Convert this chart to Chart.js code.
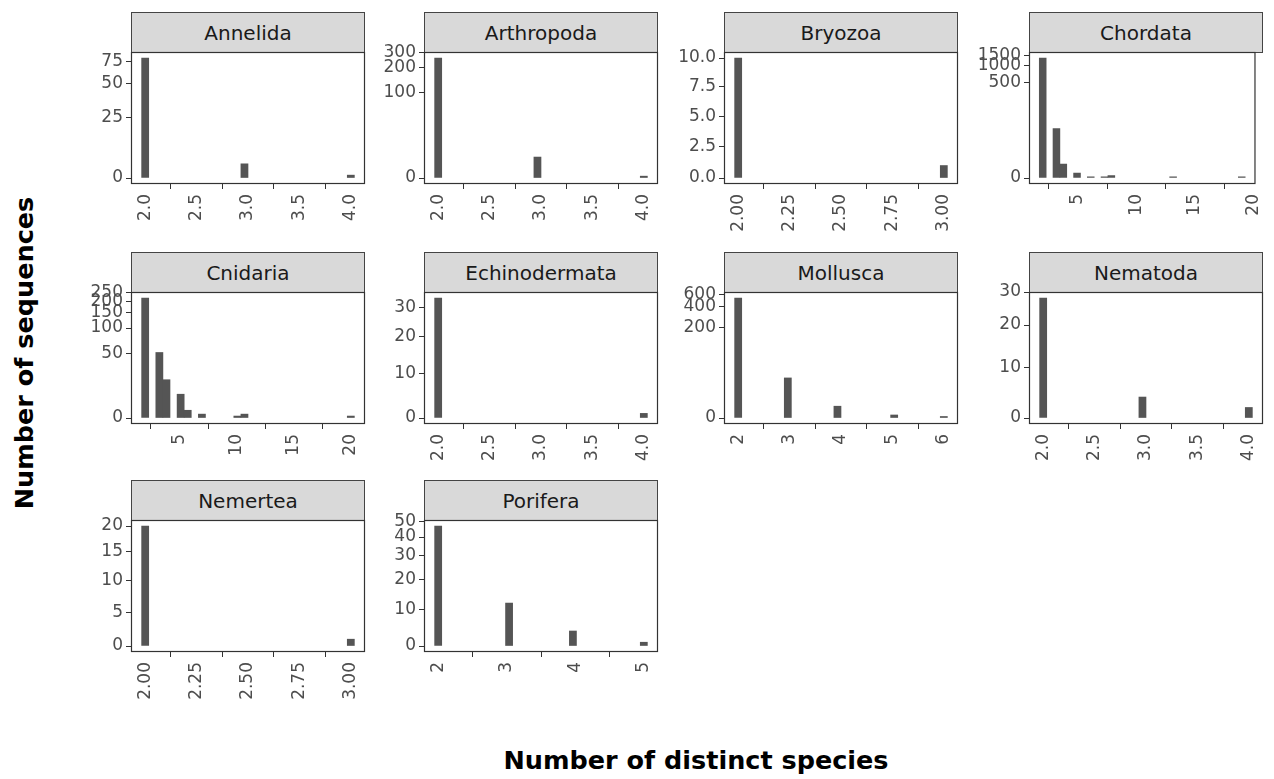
<!DOCTYPE html>
<html>
<head>
<meta charset="utf-8">
<script src="https://cdn.jsdelivr.net/npm/chart.js@4.4.1/dist/chart.umd.min.js"></script>
<style>
  html, body { margin: 0; padding: 0; background: #fff; }
  body { width: 1274px; height: 779px; overflow: hidden; position: relative; font-family: 'DejaVu Sans', sans-serif; }
  .strip { position: absolute; box-sizing: border-box; background: #d9d9d9; border: 1px solid #444; display: flex; align-items: center; justify-content: center; font-size: 20px; color: #1a1a1a; }
  .cw { position: absolute; }
  .title { position: absolute; font-weight: bold; font-size: 25.5px; color: #000; white-space: nowrap; font-family: 'DejaVu Sans', sans-serif; }
</style>
</head>
<body>
<div class="title" id="xtitle">Number of distinct species</div>
<div class="title" id="ytitle">Number of sequences</div>
<script>
// ---------------- data ----------------
const phyla = ['Annelida', 'Arthropoda', 'Bryozoa', 'Chordata', 'Cnidaria',
               'Echinodermata', 'Mollusca', 'Nematoda', 'Nemertea', 'Porifera'];

// number of distinct species (x) and number of sequences with that value (count)
const annelidaSpecies      = [2, 3, 4];
const annelidaCounts       = [80, 5, 1];
const arthropodaSpecies    = [2, 3, 4];
const arthropodaCounts     = [260, 12, 1];
const bryozoaSpecies       = [2, 3];
const bryozoaCounts        = [10, 1];
const chordataSpecies      = [2, 3, 4, 5, 6, 7, 8, 13, 19];
const chordataCounts       = [1350, 74, 12, 4, 1, 1, 2, 1, 1];
const cnidariaSpecies      = [2, 3, 4, 5, 6, 7, 10, 11, 20];
const cnidariaCounts       = [218, 52, 23, 13, 4, 2, 1, 2, 1];
const echinodermataSpecies = [2, 4];
const echinodermataCounts  = [34, 1];
const molluscaSpecies      = [2, 3, 4, 5, 6];
const molluscaCounts       = [530, 35, 8, 2, 1];
const nematodaSpecies      = [2, 3, 4];
const nematodaCounts       = [28, 4, 2];
const nemerteaSpecies      = [2, 3];
const nemerteaCounts       = [20, 1];
const poriferaSpecies      = [2, 3, 4, 5];
const poriferaCounts       = [47, 12, 4, 1];

// tick values and labels
const yTicksAnnelida = [0, 25, 50, 75];
const yTicksArthropoda = [0, 100, 200, 300];
const yTicksBryozoa = [0, 2.5, 5, 7.5, 10];
const yLabelsBryozoa = ['0.0', '2.5', '5.0', '7.5', '10.0'];
const yTicksChordata = [0, 500, 1000, 1500];
const yTicksCnidaria = [0, 50, 100, 150, 200, 250];
const yTicksEchinodermata = [0, 10, 20, 30];
const yTicksMollusca = [0, 200, 400, 600];
const yTicksNematoda = [0, 10, 20, 30];
const yTicksNemertea = [0, 5, 10, 15, 20];
const yTicksPorifera = [0, 10, 20, 30, 40, 50];

const xTicksHalf = [2, 2.5, 3, 3.5, 4];
const xLabelsHalf = ['2.0', '2.5', '3.0', '3.5', '4.0'];
const xTicksQuarter = [2, 2.25, 2.5, 2.75, 3];
const xLabelsQuarter = ['2.00', '2.25', '2.50', '2.75', '3.00'];
const xTicksFives = [5, 10, 15, 20];
const xTicksMollusca = [2, 3, 4, 5, 6];
const xTicksPorifera = [2, 3, 4, 5];

const NBINS = 30;

// ---------------- pseudo-log (asinh) y scale ----------------
const SIGMA2 = 20;
const tf = v => Math.asinh(v / SIGMA2);
const tinv = t => SIGMA2 * Math.sinh(t);

class PseudoLogScale extends Chart.Scale {
  static id = 'pseudolog';
  static defaults = {};
  determineDataLimits() {
    this.min = this.options.min;
    this.max = this.options.max;
  }
  buildTicks() {
    const vals = this.options.tickValues || [];
    return vals.filter(v => v >= this.min && v <= this.max).map(v => ({ value: v }));
  }
  getLabelForValue(v) { return String(v); }
  configure() {
    super.configure();
    this._t0 = tf(this.min);
    this._t1 = tf(this.max);
  }
  getPixelForValue(v) {
    if (v === null || v === undefined || isNaN(v)) return NaN;
    return this.getPixelForDecimal((tf(v) - this._t0) / (this._t1 - this._t0));
  }
  getValueForPixel(p) {
    return tinv(this._t0 + this.getDecimalForPixel(p) * (this._t1 - this._t0));
  }
}
Chart.register(PseudoLogScale);

// ---------------- histogram binning (30 bins, as ggplot) ----------------
function binData(species, counts) {
  const lo = Math.min(...species), hi = Math.max(...species);
  const w = (hi - lo) / (NBINS - 1);
  const bins = [];
  for (let k = 0; k < NBINS; k++) bins.push({ x: lo + k * w, y: 0 });
  species.forEach((s, i) => {
    let k = Math.ceil((s - lo) / w - 0.5 - 1e-7);
    k = Math.max(0, Math.min(NBINS - 1, k));
    bins[k].y += counts[i];
  });
  const span = hi - lo + w;
  return { bins, xmin: lo - w / 2 - 0.05 * span, xmax: hi + w / 2 + 0.05 * span };
}

// ---------------- panels ----------------
const panels = [
  { name: phyla[0], sp: annelidaSpecies, ct: annelidaCounts, yt: yTicksAnnelida, xt: xTicksHalf, xl: xLabelsHalf },
  { name: phyla[1], sp: arthropodaSpecies, ct: arthropodaCounts, yt: yTicksArthropoda, xt: xTicksHalf, xl: xLabelsHalf },
  { name: phyla[2], sp: bryozoaSpecies, ct: bryozoaCounts, yt: yTicksBryozoa, yl: yLabelsBryozoa, xt: xTicksQuarter, xl: xLabelsQuarter },
  { name: phyla[3], sp: chordataSpecies, ct: chordataCounts, yt: yTicksChordata, xt: xTicksFives },
  { name: phyla[4], sp: cnidariaSpecies, ct: cnidariaCounts, yt: yTicksCnidaria, xt: xTicksFives },
  { name: phyla[5], sp: echinodermataSpecies, ct: echinodermataCounts, yt: yTicksEchinodermata, xt: xTicksHalf, xl: xLabelsHalf },
  { name: phyla[6], sp: molluscaSpecies, ct: molluscaCounts, yt: yTicksMollusca, xt: xTicksMollusca },
  { name: phyla[7], sp: nematodaSpecies, ct: nematodaCounts, yt: yTicksNematoda, xt: xTicksHalf, xl: xLabelsHalf },
  { name: phyla[8], sp: nemerteaSpecies, ct: nemerteaCounts, yt: yTicksNemertea, xt: xTicksQuarter, xl: xLabelsQuarter },
  { name: phyla[9], sp: poriferaSpecies, ct: poriferaCounts, yt: yTicksPorifera, xt: xTicksPorifera }
];

// layout
const colLeft = [131, 424, 724, 1029];
const rowTop = [52, 292, 520];
const stripTop = [12, 252, 480];
const PW = 234, PH = 132;
const YW = 80, XH = 70, PT = 14, PR = 16;

const borderPlugin = {
  id: 'panelBorder',
  afterDraw(chart) {
    const { ctx, chartArea: a } = chart;
    ctx.save();
    ctx.strokeStyle = '#333333';
    ctx.lineWidth = 1.2;
    ctx.strokeRect(a.left + 0.5, a.top + 0.5, a.right - a.left - 1, a.bottom - a.top - 1);
    ctx.restore();
  }
};

const tickFont = { family: 'DejaVu Sans', size: 17 };

panels.forEach((p, i) => {
  const col = i % 4, row = Math.floor(i / 4);
  const left = colLeft[col], top = rowTop[row];

  // strip
  const strip = document.createElement('div');
  strip.className = 'strip';
  strip.style.left = left + 'px';
  strip.style.top = stripTop[row] + 'px';
  strip.style.width = PW + 'px';
  strip.style.height = (top - stripTop[row] + 1) + 'px';
  strip.textContent = p.name;
  document.body.appendChild(strip);

  // canvas
  const wrap = document.createElement('div');
  wrap.className = 'cw';
  wrap.style.left = (left - YW) + 'px';
  wrap.style.top = (top - PT) + 'px';
  const cv = document.createElement('canvas');
  const W = YW + PW + PR, H = PT + PH + XH;
  cv.width = W; cv.height = H;
  cv.style.width = W + 'px'; cv.style.height = H + 'px';
  wrap.appendChild(cv);
  document.body.appendChild(wrap);

  const hb = binData(p.sp, p.ct);
  const R = tf(Math.max(...hb.bins.map(b => b.y)));
  // empty bins are kept (they fix the bin width) but not drawn
  const drawn = hb.bins.map(b => ({ x: b.x, y: b.y > 0 ? b.y : null }));

  new Chart(cv, {
    type: 'bar',
    data: {
      datasets: [{
        data: drawn,
        backgroundColor: '#555555',
        borderWidth: 0,
        barPercentage: 1,
        categoryPercentage: 1
      }]
    },
    options: {
      responsive: false,
      animation: false,
      devicePixelRatio: 1,
      events: [],
      layout: { padding: { left: 0, top: PT, right: PR, bottom: 0 } },
      plugins: { legend: { display: false }, tooltip: { enabled: false } },
      scales: {
        x: {
          type: 'linear',
          min: hb.xmin,
          max: hb.xmax,
          offset: false,
          afterBuildTicks: s => { s.ticks = p.xt.map(v => ({ value: v })); },
          afterFit: s => { s.height = XH; },
          grid: { display: true, drawOnChartArea: false, drawTicks: true, tickLength: 5, color: '#333333', lineWidth: 1 },
          border: { display: false },
          ticks: {
            autoSkip: false, minRotation: 90, maxRotation: 90, padding: 5,
            font: tickFont, color: '#4d4d4d',
            callback: (v, idx) => p.xl ? p.xl[idx] : String(p.xt[idx])
          }
        },
        y: {
          type: 'pseudolog',
          min: tinv(-0.05 * R),
          max: tinv(1.05 * R),
          tickValues: p.yt,
          afterFit: s => { s.width = YW; },
          grid: { display: true, drawOnChartArea: false, drawTicks: true, tickLength: 5, color: '#333333', lineWidth: 1 },
          border: { display: false },
          ticks: {
            autoSkip: false, padding: 3,
            font: tickFont, color: '#4d4d4d',
            callback: function (v, idx) {
              const t = this.ticks[idx].value;
              const j = p.yt.indexOf(t);
              return p.yl ? p.yl[j] : String(t);
            }
          }
        }
      }
    },
    plugins: [borderPlugin]
  });
});

// axis titles
const xt = document.getElementById('xtitle');
xt.style.left = '696px'; xt.style.top = '760px';
xt.style.transform = 'translate(-50%, -50%)';
const yt = document.getElementById('ytitle');
yt.style.left = '24px'; yt.style.top = '353px';
yt.style.transform = 'translate(-50%, -50%) rotate(-90deg)';
</script>
</body>
</html>
